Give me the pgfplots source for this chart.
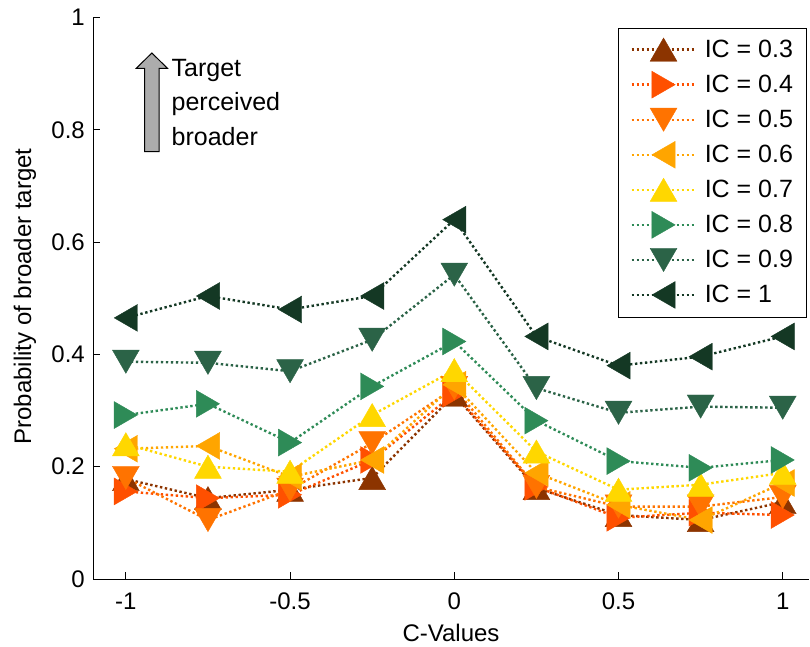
\documentclass[border=0pt]{standalone}
\usepackage{pgfplots}
\usepackage{pgfplotstable}
\pgfplotsset{compat=1.18}
\usepackage{fontspec}
\setmainfont{Liberation Sans}

\definecolor{c3}{RGB}{140,52,0}
\definecolor{c4}{RGB}{255,80,0}
\definecolor{c5}{RGB}{255,115,0}
\definecolor{c6}{RGB}{255,165,0}
\definecolor{c7}{RGB}{255,215,0}
\definecolor{c8}{RGB}{46,139,87}
\definecolor{c9}{RGB}{43,99,71}
\definecolor{c10}{RGB}{20,56,36}

\pgfplotstableread{
x     a3    a4    a5    a6    a7    a8    a9    a10
-1    0.178 0.156 0.180 0.232 0.240 0.292 0.387 0.465
-0.75 0.144 0.144 0.105 0.237 0.200 0.312 0.385 0.504
-0.5  0.159 0.150 0.159 0.182 0.191 0.243 0.370 0.480
-0.25 0.180 0.212 0.242 0.212 0.292 0.343 0.426 0.504
0     0.328 0.330 0.340 0.346 0.372 0.423 0.542 0.640
0.25  0.162 0.164 0.164 0.189 0.227 0.282 0.340 0.432
0.5   0.114 0.109 0.129 0.132 0.159 0.210 0.296 0.380
0.75  0.105 0.118 0.129 0.105 0.168 0.198 0.307 0.396
1     0.137 0.114 0.146 0.171 0.189 0.212 0.305 0.432
}\data

\pgfplotsset{
  ser/.style={color=#1, line width=2.4pt, dash pattern=on 2.4pt off 2.6pt, mark size=15.5pt},
  mup/.style={mark=triangle*, mark options={solid, line width=0.4pt, yshift=-3.9pt}},
  mright/.style={mark=triangle*, mark options={solid, line width=0.4pt, xshift=-3.9pt, rotate=-90}},
  mdown/.style={mark=triangle*, mark options={solid, line width=0.4pt, yshift=3.9pt, rotate=180}},
  mleft/.style={mark=triangle*, mark options={solid, line width=0.4pt, xshift=3.9pt, rotate=90}},
}

\begin{document}
\begin{tikzpicture}
\begin{axis}[
  at={(93pt,67pt)}, anchor=south west,
  scale only axis, width=716pt, height=561.5pt,
  xmin=-1.1, xmax=1.08, ymin=0, ymax=1,
  axis lines=left, axis line style={-, line width=1pt},
  tick align=inside, major tick length=7pt,
  tick style={black, line width=1pt},
  xtick={-1,-0.5,0,0.5,1}, xticklabels={-1,-0.5,0,0.5,1},
  ytick={0,0.2,0.4,0.6,0.8,1}, yticklabels={0,0.2,0.4,0.6,0.8,1},
  ticklabel style={font=\fontsize{24}{28}\selectfont},
  xticklabel style={anchor=north, inner sep=0pt, yshift=-14pt},
  yticklabel style={anchor=east, inner sep=0pt, xshift=-8pt},
  xlabel={C-Values}, ylabel={Probability of broader target},
  every axis x label/.style={at={(axis description cs:0.5,0)}, anchor=center, yshift=-54pt, font=\fontsize{24}{28}\selectfont},
  every axis y label/.style={at={(axis description cs:-0.095,0.503)}, anchor=center, rotate=90, font=\fontsize{24}{28}\selectfont},
  legend style={at={(1,1)}, anchor=north east, xshift=-2pt, yshift=-11pt,
    draw=black, line width=1pt, fill=white,
    font=\fontsize{25}{30}\selectfont, row sep=10pt, inner xsep=11.5pt, inner ysep=9pt,
    /tikz/every odd column/.append style={column sep=6pt}},
  legend cell align=left,
  legend image code/.code={\draw[mark repeat=2, mark phase=2] plot coordinates {(0pt,0pt) (32pt,0pt) (64pt,0pt)};},
]
\addplot[ser=c3, mup] table[x=x, y=a3] {\data};
\addlegendentry{IC = 0.3}
\addplot[ser=c4, mright] table[x=x, y=a4] {\data};
\addlegendentry{IC = 0.4}
\addplot[ser=c5, mdown] table[x=x, y=a5] {\data};
\addlegendentry{IC = 0.5}
\addplot[ser=c6, mleft] table[x=x, y=a6] {\data};
\addlegendentry{IC = 0.6}
\addplot[ser=c7, mup] table[x=x, y=a7] {\data};
\addlegendentry{IC = 0.7}
\addplot[ser=c8, mright] table[x=x, y=a8] {\data};
\addlegendentry{IC = 0.8}
\addplot[ser=c9, mdown] table[x=x, y=a9] {\data};
\addlegendentry{IC = 0.9}
\addplot[ser=c10, mleft] table[x=x, y=a10] {\data};
\addlegendentry{IC = 1}

% annotation arrow and text
\draw[fill=gray!65, line width=1pt]
  (axis cs:-0.9427,0.761) -- (axis cs:-0.9427,0.9095) -- (axis cs:-0.9683,0.9095)
  -- (axis cs:-0.9208,0.9368) -- (axis cs:-0.8733,0.9095) -- (axis cs:-0.8989,0.9095)
  -- (axis cs:-0.8989,0.761) -- cycle;
\node[anchor=base west, inner sep=0pt, font=\fontsize{25}{30}\selectfont] at (axis cs:-0.861,0.8958) {Target};
\node[anchor=base west, inner sep=0pt, font=\fontsize{25}{30}\selectfont] at (axis cs:-0.861,0.8344) {perceived};
\node[anchor=base west, inner sep=0pt, font=\fontsize{25}{30}\selectfont] at (axis cs:-0.861,0.7729) {broader};
\end{axis}
\path (0,0) rectangle (810pt,646pt);
\end{tikzpicture}
\end{document}
